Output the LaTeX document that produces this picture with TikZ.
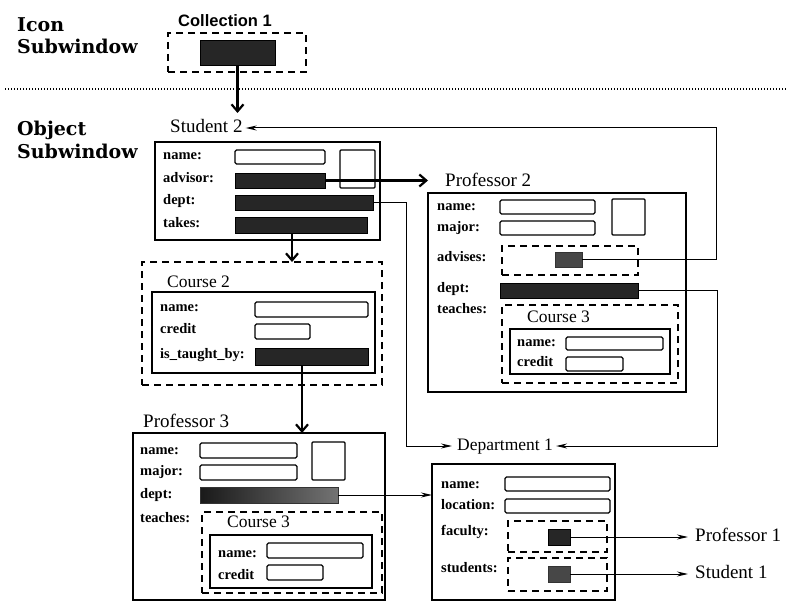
\documentclass[tikz,border=0pt]{standalone}
\usepackage{fontspec}
\setmainfont{Liberation Serif}
\newfontfamily\sidefont{DejaVu Serif}
\newfontfamily\collfont{Liberation Sans}
\usetikzlibrary{arrows.meta}
\newcommand\mkrect[6]{\pgfmathsetmacro\mkw{#5-#3}\pgfmathsetmacro\mkh{#6-#4}\node[#1, anchor=north west, minimum width=\mkw pt, minimum height=\mkh pt] (#2) at (#3,#4) {};}
\tikzset{
  obox/.style={draw, line width=1.7pt, inner sep=0pt, outer sep=0pt},
  dbox/.style={draw, line width=1.8pt, dash pattern=on 7pt off 5pt, inner sep=0pt, outer sep=0pt},
  wfield/.style={draw, line width=1.3pt, rounded corners=1.5pt, inner sep=0pt, outer sep=0pt},
  dfield/.style={fill=black!85, draw=black, line width=0.6pt, inner sep=0pt, outer sep=0pt},
  gfield/.style={fill=black!72, draw=black!80, line width=0.6pt, inner sep=0pt, outer sep=0pt},
  sfield/.style={left color=black!90, right color=black!55, draw=black!80, line width=0.6pt, inner sep=0pt, outer sep=0pt},
  picbox/.style={draw, line width=1.3pt, rounded corners=1pt, inner sep=0pt, outer sep=0pt},
  lbl/.style={font=\fontsize{14.5}{16}\selectfont\bfseries, inner sep=0pt, anchor=west, text height=7pt, text depth=2pt},
  ttl/.style={font=\fontsize{19}{21}\selectfont, inner sep=0pt, anchor=west, text height=13pt, text depth=4pt},
  sttl/.style={font=\fontsize{17.5}{20}\selectfont, inner sep=0pt, anchor=west, text height=12pt, text depth=3pt},
  side/.style={font=\sidefont\fontsize{19}{22}\selectfont\bfseries, inner sep=0pt, anchor=west, text height=14pt, text depth=4pt},
  colt/.style={font=\collfont\fontsize{16.5}{19}\selectfont\bfseries, inner sep=0pt, text height=12pt, text depth=0pt},
  thk/.style={line width=2.2pt, -{Straight Barb[length=7pt,width=12pt,line width=2.2pt]}},
  thn/.style={line width=1pt, -{Stealth[length=11pt,width=5pt]}},
  dotl/.style={line width=1.3pt, dash pattern=on 0.9pt off 2.1pt},
}
\begin{document}
\begin{tikzpicture}[x=1pt,y=-1pt]
\path[use as bounding box] (0,0) rectangle (786,604);
% side labels
\node[side] (iconA) at (17,27) {Icon};
\node[side] (iconB) at (17,49) {Subwindow};
\node[side] (objA) at (17,131) {Object};
\node[side] (objB) at (17,154) {Subwindow};
% separator
\coordinate (dotL) at (5,89);
\coordinate (dotR) at (786,89);
\draw[dotl] (dotL) -- (dotR);
% Collection
\node[colt] (colt) at (225,21) {Collection 1};
\mkrect{dbox}{colbox}{168}{33}{306}{72}
\mkrect{dfield}{colbar}{200}{40}{275}{65}
% Student 2
\node[ttl] (s2t) at (170,128) {Student 2};
\mkrect{obox}{s2}{155}{142}{380}{240}
\node[lbl] (s2l1) at (163,157) {name:};
\node[lbl] (s2l2) at (163,180) {advisor:};
\node[lbl] (s2l3) at (163,202) {dept:};
\node[lbl] (s2l4) at (163,225) {takes:};
\mkrect{wfield}{s2name}{235}{150}{325}{164}
\mkrect{picbox}{s2pic}{340}{150}{375}{188}
\mkrect{dfield}{s2adv}{235}{173}{325}{188}
\mkrect{dfield}{s2dept}{235}{195}{373}{210}
\mkrect{dfield}{s2takes}{235}{217}{367}{233}
% Course 2
\mkrect{dbox}{c2d}{142}{262}{382}{385}
\node[sttl] (c2t) at (167,283) {Course 2};
\mkrect{obox}{c2}{152}{292}{375}{373}
\node[lbl] (c2l1) at (160,309) {name:};
\node[lbl] (c2l2) at (160,331) {credit};
\node[lbl] (c2l3) at (160,356) {is\_taught\_by:};
\mkrect{wfield}{c2name}{255}{302}{368}{317}
\mkrect{wfield}{c2cred}{255}{324}{310}{339}
\mkrect{dfield}{c2itb}{255}{348}{368}{365}
% Professor 2
\node[ttl] (p2t) at (445,182) {Professor 2};
\mkrect{obox}{p2}{428}{193}{686}{392}
\node[lbl] (p2l1) at (437,208) {name:};
\node[lbl] (p2l2) at (437,229) {major:};
\node[lbl] (p2l3) at (437,259) {advises:};
\node[lbl] (p2l4) at (437,290) {dept:};
\node[lbl] (p2l5) at (437,311) {teaches:};
\mkrect{wfield}{p2name}{500}{200}{595}{214}
\mkrect{picbox}{p2pic}{612}{199}{645}{235}
\mkrect{wfield}{p2major}{500}{221}{595}{235}
\mkrect{dbox}{p2advd}{502}{246}{638}{275}
\mkrect{gfield}{p2adv}{555}{252}{582}{267}
\mkrect{dfield}{p2dept}{500}{283}{638}{298}
\mkrect{dbox}{p2teach}{502}{305}{678}{383}
\node[sttl] (p2c3t) at (527,318) {Course 3};
\mkrect{obox}{p2c3}{510}{329}{670}{374}
\node[lbl] (p2c3l1) at (517,344) {name:};
\node[lbl] (p2c3l2) at (517,364) {credit};
\mkrect{wfield}{p2c3name}{566}{337}{663}{350}
\mkrect{wfield}{p2c3cred}{566}{357}{623}{371}
% Professor 3
\node[ttl] (p3t) at (143,423) {Professor 3};
\mkrect{obox}{p3}{133}{433}{385}{600}
\node[lbl] (p3l1) at (140,452) {name:};
\node[lbl] (p3l2) at (140,473) {major:};
\node[lbl] (p3l3) at (140,496) {dept:};
\node[lbl] (p3l4) at (140,520) {teaches:};
\mkrect{wfield}{p3name}{200}{443}{297}{458}
\mkrect{picbox}{p3pic}{312}{442}{345}{480}
\mkrect{wfield}{p3major}{200}{465}{297}{480}
\mkrect{sfield}{p3dept}{200}{487}{338}{503}
\mkrect{dbox}{p3teach}{202}{512}{382}{593}
\node[sttl] (p3c3t) at (227,523) {Course 3};
\mkrect{obox}{p3c3}{210}{535}{372}{588}
\node[lbl] (p3c3l1) at (218,555) {name:};
\node[lbl] (p3c3l2) at (218,577) {credit};
\mkrect{wfield}{p3c3name}{267}{543}{363}{558}
\mkrect{wfield}{p3c3cred}{267}{565}{323}{580}
% Department 1
\node[sttl] (d1t) at (457,446) {Department 1};
\mkrect{obox}{d1}{432}{464}{615}{600}
\node[lbl] (d1l1) at (441,486) {name:};
\node[lbl] (d1l2) at (441,507) {location:};
\node[lbl] (d1l3) at (441,533) {faculty:};
\node[lbl] (d1l4) at (441,570) {students:};
\mkrect{wfield}{d1name}{505}{477}{610}{491}
\mkrect{wfield}{d1loc}{505}{499}{610}{513}
\mkrect{dbox}{d1facd}{508}{521}{607}{552}
\mkrect{dfield}{d1fac}{548}{529}{570}{545}
\mkrect{dbox}{d1stud}{508}{558}{607}{591}
\mkrect{gfield}{d1st}{548}{566}{570}{582}
\node[ttl] (prof1) at (695,537) {Professor 1};
\node[ttl] (stud1) at (695,574) {Student 1};
% connectors
\coordinate (s2in) at (237.5,113);
\draw[thk] (colbar.south) -- (s2in);
\draw[thk] (s2adv.east) -- (s2adv.east -| p2.west);
\coordinate (takesout) at (292,233);
\draw[thk] (takesout) -- (takesout |- c2d.north);
\coordinate (itbout) at (302,365);
\draw[thk] (itbout) -- (itbout |- p3.north);
\draw[thn, shorten >=3pt] (p2adv.east) -- ++(134,0) |- (s2t.east);
\draw[thn, shorten >=3pt] (p2dept.east) -- ++(79,0) |- (d1t.east);
\draw[thn, shorten >=5pt] (s2dept.east) -- ++(33,0) |- (d1t.west);
\draw[thn] (p3dept.east) -- (p3dept.east -| d1.west);
\draw[thn, shorten >=7pt] (d1fac.east) -- (d1fac.east -| prof1.west);
\draw[thn, shorten >=7pt] (d1st.east) -- (d1st.east -| stud1.west);
\end{tikzpicture}
\end{document}
